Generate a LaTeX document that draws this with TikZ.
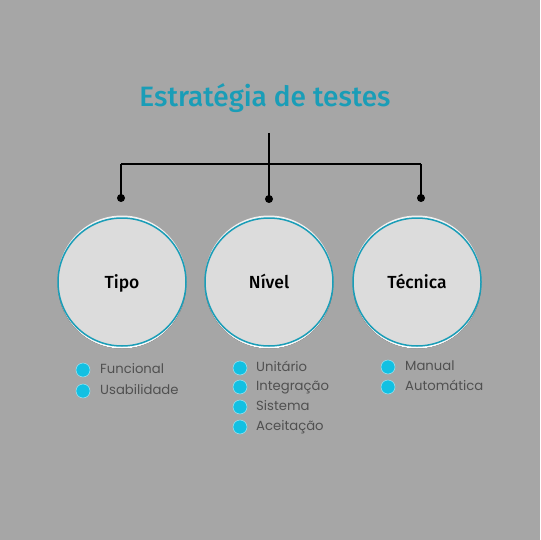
\documentclass[tikz,border=0pt]{standalone}
\usepackage{fontspec}
\setmainfont{Fira Sans}
\newfontfamily\medfont{Fira Sans Medium}
\newfontfamily\listfont{Poppins}
\definecolor{bg}{HTML}{A6A6A6}
\definecolor{teal}{HTML}{1A9DB7}
\definecolor{disc}{HTML}{DCDCDC}
\definecolor{shade}{HTML}{BDBDBD}
\definecolor{dot}{HTML}{12C0E2}
\definecolor{listtext}{HTML}{505050}
\tikzset{
  conn/.style={line width=1.6pt, black},
  enddot/.style={circle, fill=black, inner sep=0pt, minimum size=8pt},
  bigcirc/.style={circle, draw=teal, line width=1.5pt, fill=disc, minimum size=128pt, inner sep=0pt, text height=12.5pt, text depth=0pt, font=\medfont\fontsize{17.5}{20}\selectfont},
  bullet/.style={circle, fill=dot, draw=white!60!dot, line width=0.5pt, inner sep=0pt, minimum size=14pt},
  item/.style={anchor=west, inner sep=0pt, text height=9.5pt, text depth=2pt, text=listtext, font=\listfont\fontsize{13.2}{15}\selectfont},
}
\begin{document}
\begin{tikzpicture}[x=1pt,y=-1pt]
\fill[bg] (0,0) rectangle (540,540);
\useasboundingbox (0,0) rectangle (540,540);
\node[text=teal, font=\medfont\fontsize{28}{32}\selectfont] (title) at (265,98) {Estratégia de testes};
\coordinate (top) at (269,133);
\coordinate (jn) at (269,164);
\coordinate (lj) at (121,164);
\coordinate (rj) at (421,164);
\node[enddot] (d1) at (121,198) {};
\node[enddot] (d2) at (269,199) {};
\node[enddot] (d3) at (421,198) {};
\draw[conn] (top) -- (d2.center);
\draw[conn] (lj) -- (rj);
\draw[conn] (lj) -- (d1.center);
\draw[conn] (rj) -- (d3.center);
% shadows
\foreach \x in {122,269,417}{
  \fill[shade] (\x,284.5) circle (64pt);
  \fill[white!80!shade] (\x,279.5) circle (64pt);
}
\node[bigcirc] (tipo) at (122,282) {Tipo};
\node[bigcirc] (nivel) at (269,282) {Nível};
\node[bigcirc] (tecnica) at (417,282) {Técnica};
% lists
\node[bullet] (b11) at (83,370) {};
\node[item] (t11) at (100,370) {Funcional};
\node[bullet] (b12) at (83,391) {};
\node[item] (t12) at (100,391) {Usabilidade};
\node[bullet] (b21) at (240,368) {};
\node[item] (t21) at (256,368) {Unitário};
\node[bullet] (b22) at (240,387) {};
\node[item] (t22) at (256,387) {Integração};
\node[bullet] (b23) at (240,407) {};
\node[item] (t23) at (256,407) {Sistema};
\node[bullet] (b24) at (240,427) {};
\node[item] (t24) at (256,427) {Aceitação};
\node[bullet] (b31) at (388,367) {};
\node[item] (t31) at (405,367) {Manual};
\node[bullet] (b32) at (388,387) {};
\node[item] (t32) at (405,387) {Automática};
\end{tikzpicture}
\end{document}
